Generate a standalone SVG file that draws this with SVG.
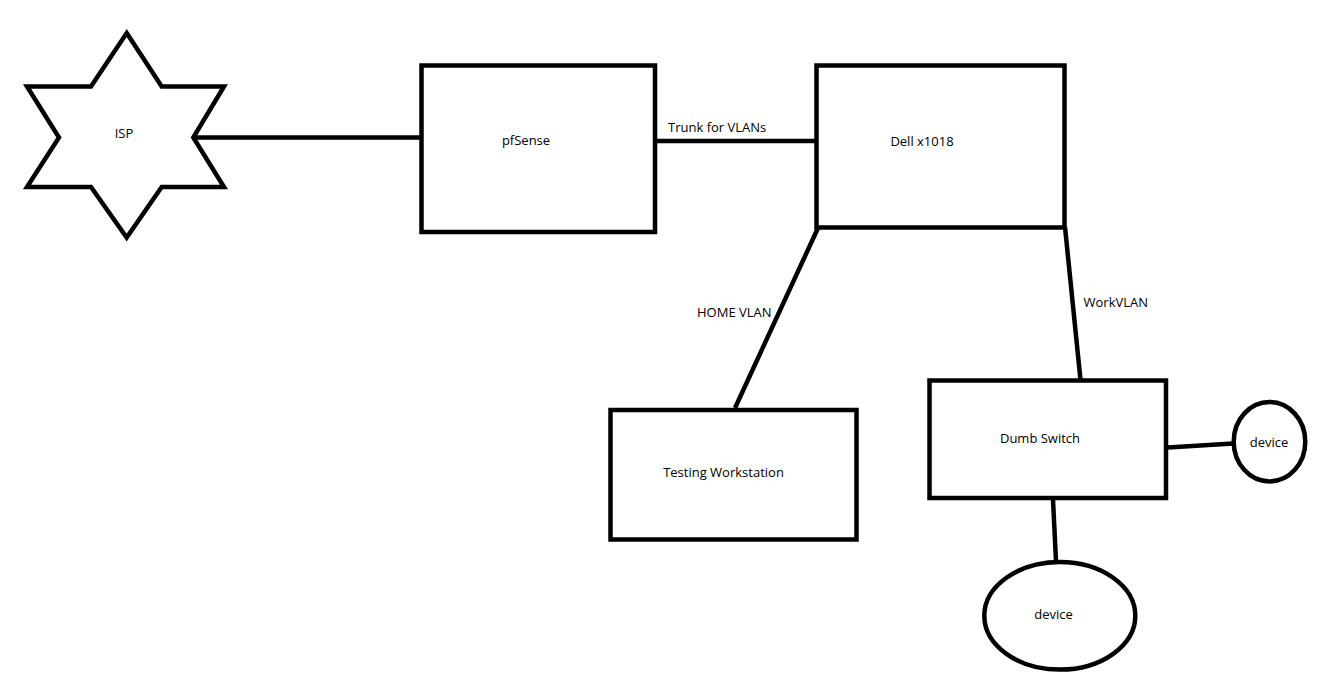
<svg xmlns="http://www.w3.org/2000/svg" width="1318" height="688" viewBox="0 0 1318 688">
<style>
.s{fill:#fff;stroke:#000;stroke-width:4.5;stroke-linejoin:miter}
.c{fill:none;stroke:#000;stroke-width:4.5}
text{font-family:"Segoe UI","Open Sans","Noto Sans",sans-serif;font-size:13px;fill:#000}
.m{text-anchor:middle}
</style>
<rect width="1318" height="688" fill="#fff"/>
<g id="connectors">
<line class="c" x1="193" y1="137.5" x2="420" y2="137.5"/>
<line class="c" x1="657" y1="141" x2="816" y2="141"/>
<line class="c" x1="818" y1="228" x2="735" y2="408"/>
<line class="c" x1="1065" y1="227" x2="1080.5" y2="380"/>
<line class="c" x1="1168" y1="447.5" x2="1233" y2="443.5"/>
<line class="c" x1="1053" y1="500" x2="1056" y2="561"/>
</g>
<g id="labels">
<text x="668" y="132">Trunk for VLANs</text>
<text x="697" y="317">HOME VLAN</text>
<text x="1083.5" y="307">WorkVLAN</text>
</g>
<g id="isp">
<polygon class="s" points="126.7,33 161.7,86.5 224,86.5 193.3,137.5 224,187 161.7,187 126.7,237.5 91,187 27,187 59,137.5 27,86.5 91,86.5"/>
<text class="m" x="124" y="138">ISP</text>
</g>
<g id="pfsense">
<rect class="s" x="421.5" y="65.5" width="233.5" height="166.5"/>
<text class="m" x="526" y="145">pfSense</text>
</g>
<g id="dell">
<rect class="s" x="816.5" y="65.5" width="248" height="162"/>
<text class="m" x="922" y="146">Dell x1018</text>
</g>
<g id="workstation">
<rect class="s" x="610.5" y="410" width="246" height="129.5"/>
<text class="m" x="723.5" y="477">Testing Workstation</text>
</g>
<g id="dumbswitch">
<rect class="s" x="929.5" y="380.5" width="236.5" height="117.5"/>
<text class="m" x="1040" y="443">Dumb Switch</text>
</g>
<g id="device1">
<ellipse class="s" cx="1269.5" cy="441.7" rx="35.8" ry="39.7"/>
<text class="m" x="1269" y="447">device</text>
</g>
<g id="device2">
<ellipse class="s" cx="1059.8" cy="615.8" rx="75.5" ry="53.8"/>
<text class="m" x="1053.5" y="618.5">device</text>
</g>
</svg>
